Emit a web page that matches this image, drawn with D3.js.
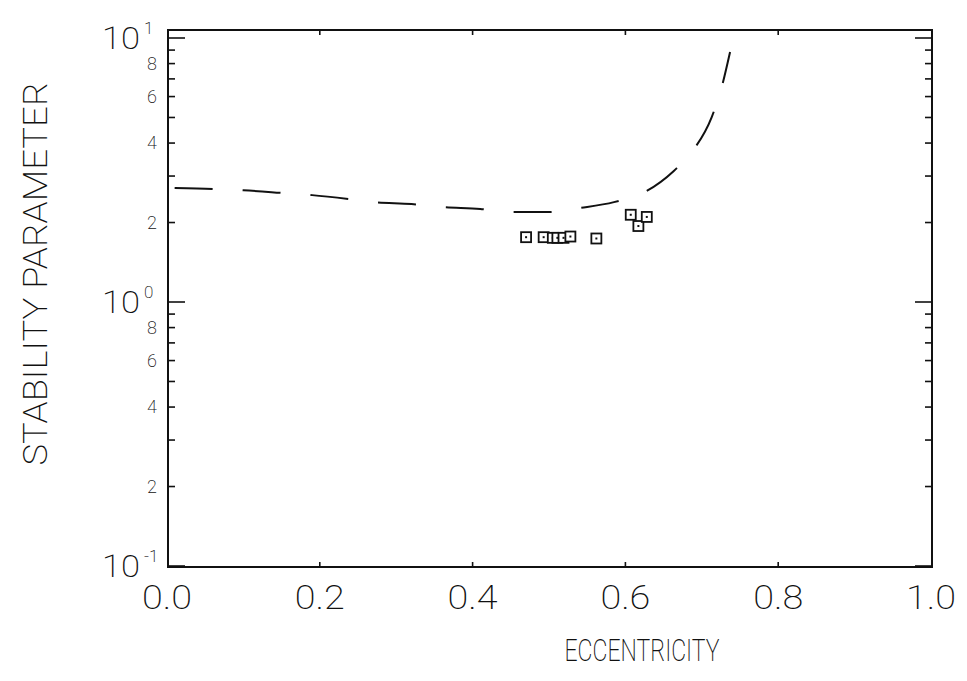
<!DOCTYPE html>
<html>
<head>
<meta charset="utf-8">
<script src="https://cdn.jsdelivr.net/npm/d3@7"></script>
<style>
  html, body { margin: 0; padding: 0; background: #fff; }
  svg { display: block; }
  text { font-family: Roboto, "DejaVu Sans", sans-serif; font-weight: 200; fill: #111; }
</style>
</head>
<body>
<svg id="chart" width="967" height="681"></svg>
<script>
// ---- data ----
const curveE = [0.01, 0.06, 0.10, 0.15, 0.19, 0.24, 0.27, 0.32, 0.36, 0.41, 0.45, 0.50, 0.54, 0.585, 0.623, 0.663, 0.689, 0.713, 0.725, 0.737];
const curveV = [2.70, 2.68, 2.65, 2.59, 2.54, 2.45, 2.39, 2.35, 2.29, 2.25, 2.19, 2.19, 2.27, 2.39, 2.59, 3.13, 3.77, 5.02, 6.35, 8.85];
const pointE = [0.470, 0.493, 0.505, 0.511, 0.519, 0.528, 0.562, 0.607, 0.617, 0.628];
const pointV = [1.76, 1.76, 1.75, 1.75, 1.75, 1.77, 1.74, 2.14, 1.94, 2.10];
const xTicks = [0, 0.2, 0.4, 0.6, 0.8, 1.0];
const xTickLabels = ["0.0", "0.2", "0.4", "0.6", "0.8", "1.0"];
const yMajor = [0.1, 1, 10];
const yMajorExp = ["-1", "0", "1"];
const yMinor = [0.2,0.3,0.4,0.5,0.6,0.7,0.8,0.9,2,3,4,5,6,7,8,9];
const yMinorLabeled = [0.2,0.4,0.6,0.8,2,4,6,8];
const yMinorLabels = ["2","4","6","8","2","4","6","8"];
const xTitle = "ECCENTRICITY";
const yTitle = "STABILITY PARAMETER";

// ---- layout ----
const L = 168, R = 932, T = 30, B = 567;
const x = d3.scaleLinear().domain([0, 1]).range([167, 931]);
const y = d3.scaleLog().domain([0.1, 10]).range([566, 38]);

const svg = d3.select("#chart");

// frame
svg.append("rect").attr("x", L).attr("y", T).attr("width", R - L).attr("height", B - T)
  .attr("fill", "none").attr("stroke", "#111").attr("stroke-width", 2);

// y ticks (left and right, inward)
const yt = svg.append("g").attr("stroke", "#111").attr("stroke-width", 1.6);
yMajor.forEach(v => {
  yt.append("line").attr("x1", L).attr("x2", L + 17).attr("y1", y(v)).attr("y2", y(v));
  yt.append("line").attr("x1", R).attr("x2", R - 17).attr("y1", y(v)).attr("y2", y(v));
});
yMinor.forEach(v => {
  yt.append("line").attr("x1", L).attr("x2", L + 7).attr("y1", y(v)).attr("y2", y(v));
  yt.append("line").attr("x1", R).attr("x2", R - 7).attr("y1", y(v)).attr("y2", y(v));
});
// x ticks (top and bottom, inward)
xTicks.slice(1, -1).forEach(v => {
  yt.append("line").attr("x1", x(v)).attr("x2", x(v)).attr("y1", B).attr("y2", B - 5);
  yt.append("line").attr("x1", x(v)).attr("x2", x(v)).attr("y1", T).attr("y2", T + 5);
});

// y major labels 10^n
yMajor.forEach((v, i) => {
  const t = svg.append("text").attr("x", 102).attr("y", y(v) + 11).attr("font-size", 32);
  t.append("tspan").text("10").attr("textLength", 38).attr("lengthAdjust", "spacingAndGlyphs");
  t.append("tspan").text(yMajorExp[i]).attr("font-size", 17).attr("dx", 4).attr("dy", -15);
});
// y minor labels
yMinorLabeled.forEach((v, i) => {
  svg.append("text").attr("x", 157).attr("y", y(v) + 6).attr("font-size", 18)
    .attr("text-anchor", "end").text(yMinorLabels[i]);
});
// x labels
xTicks.forEach((v, i) => {
  svg.append("text").attr("x", x(v)).attr("y", 609).attr("font-size", 33)
    .attr("text-anchor", "middle").attr("textLength", 50).attr("lengthAdjust", "spacingAndGlyphs")
    .text(xTickLabels[i]);
});
// axis titles
svg.append("text").attr("x", 642).attr("y", 661).attr("font-size", 32)
  .attr("text-anchor", "middle").attr("textLength", 155).attr("lengthAdjust", "spacingAndGlyphs")
  .text(xTitle);
svg.append("text").attr("transform", "translate(47,274) rotate(-90)").attr("font-size", 33)
  .attr("text-anchor", "middle").attr("textLength", 383).attr("lengthAdjust", "spacingAndGlyphs")
  .text(yTitle);

// dashed curve
const curve = curveE.map((e, i) => [e, curveV[i]]);
svg.append("path").datum(curve)
  .attr("d", d3.line().x(d => x(d[0])).y(d => y(d[1])).curve(d3.curveMonotoneX))
  .attr("fill", "none").attr("stroke", "#111").attr("stroke-width", 2)
  .attr("stroke-dasharray", "38 30");

// square points
const pts = pointE.map((e, i) => [e, pointV[i]]);
const g = svg.append("g");
pts.forEach(d => {
  g.append("rect").attr("x", x(d[0]) - 5).attr("y", y(d[1]) - 5).attr("width", 10).attr("height", 10)
    .attr("fill", "#fff").attr("stroke", "#111").attr("stroke-width", 1.8);
  g.append("rect").attr("x", x(d[0]) - 1).attr("y", y(d[1]) - 1).attr("width", 2).attr("height", 2)
    .attr("fill", "#111");
});
</script>
</body>
</html>
